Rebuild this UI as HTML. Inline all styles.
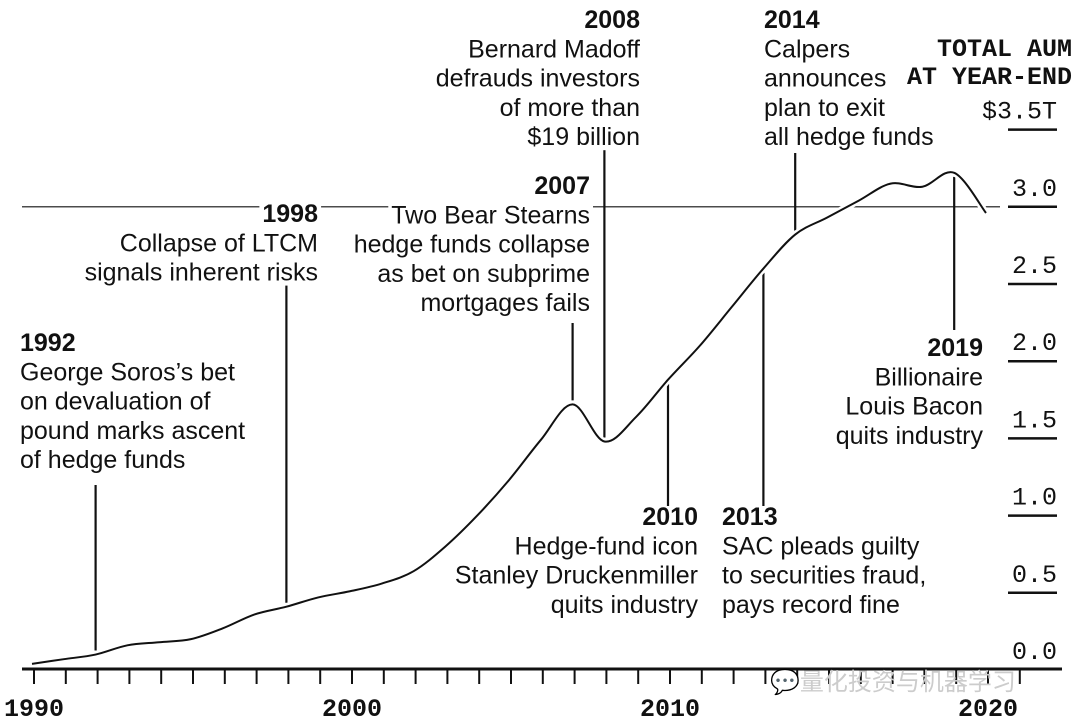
<!DOCTYPE html>
<html><head><meta charset="utf-8"><style>
html,body{margin:0;padding:0;background:#fff;}
svg{display:block;}
.ev{font-family:"Liberation Sans",sans-serif;font-size:25px;fill:#111;}
.yr{font-weight:bold;}
.ax{font-family:"Liberation Mono",monospace;font-size:25px;fill:#111;}
</style></head><body>
<svg id="chart" width="1080" height="726" viewBox="0 0 1080 726" xmlns="http://www.w3.org/2000/svg">
<g id="grid"></g>
<g id="vlines"></g>
<g id="curve"></g>
<g id="xaxis"></g>
<g id="yaxis"></g>
<g id="events"></g>
<text x="770" y="690" style="font-family:'Liberation Sans','Noto Sans CJK SC',sans-serif;font-size:24px;fill:#ccc;">💬量化投资与机器学习</text>
</svg>
<script>
const years=[1990,1991,1992,1993,1994,1995,1996,1997,1998,1999,2000,2001,2002,2003,2004,2005,2006,2007,2008,2009,2010,2011,2012,2013,2014,2015,2016,2017,2018,2019,2020];
const aum=[0.04,0.07,0.1,0.16,0.18,0.2,0.27,0.36,0.41,0.47,0.51,0.56,0.64,0.8,1.0,1.23,1.49,1.72,1.48,1.64,1.88,2.1,2.35,2.6,2.82,2.93,3.04,3.15,3.13,3.22,2.96];
const yTicks=[0,0.5,1.0,1.5,2.0,2.5,3.0,3.5];
const yTickLabels=["0.0","0.5","1.0","1.5","2.0","2.5","3.0","$3.5T"];
const xLabels=[1990,2000,2010,2020];
const eventYears=[1992,1998,2007,2008,2010,2013,2014,2019];
const eventTops=[485,283,323,150,508,508,153,330];
const eventTitles=[
["1992","George Soros’s bet","on devaluation of","pound marks ascent","of hedge funds"],
["1998","Collapse of LTCM","signals inherent risks"],
["2007","Two Bear Stearns","hedge funds collapse","as bet on subprime","mortgages fails"],
["2008","Bernard Madoff","defrauds investors","of more than","$19 billion"],
["2010","Hedge-fund icon","Stanley Druckenmiller","quits industry"],
["2013","SAC pleads guilty","to securities fraud,","pays record fine"],
["2014","Calpers","announces","plan to exit","all hedge funds"],
["2019","Billionaire","Louis Bacon","quits industry"]];
const evLayout=[[20,351,'start'],[318,222,'end'],[590,194,'end'],[640,28,'end'],[698,525,'end'],[722,525,'start'],[764,28,'start'],[983,356,'end']];
const NS="http://www.w3.org/2000/svg";
function X(y){return 32+31.8*(y-1990);}
function Y(v){return 670-154.4*v;}
function mk(tag,attrs,parent){const e=document.createElementNS(NS,tag);for(const k in attrs)e.setAttribute(k,attrs[k]);parent.appendChild(e);return e;}
const g=document.getElementById('grid'),vl=document.getElementById('vlines'),cv=document.getElementById('curve'),xa=document.getElementById('xaxis'),ya=document.getElementById('yaxis'),ev=document.getElementById('events');
let gl=mk('line',{x1:22,x2:1000,y1:Y(3),y2:Y(3),stroke:'#111','stroke-width':1.2},g);


const pts=years.map((y,i)=>[X(y),Y(aum[i])]);
let d='M'+pts[0][0]+','+pts[0][1];
for(let i=0;i<pts.length-1;i++){const p0=pts[Math.max(0,i-1)],p1=pts[i],p2=pts[i+1],p3=pts[Math.min(pts.length-1,i+2)];
d+=' C'+(p1[0]+(p2[0]-p0[0])/6)+','+(p1[1]+(p2[1]-p0[1])/6)+' '+(p2[0]-(p3[0]-p1[0])/6)+','+(p2[1]-(p3[1]-p1[1])/6)+' '+p2[0]+','+p2[1];}
mk('path',{d:d,fill:'none',stroke:'#fff','stroke-width':7},cv);
let cp=mk('path',{d:d,fill:'none',stroke:'#111','stroke-width':2},cv);


eventYears.forEach((yr,i)=>{
  const idx=years.indexOf(yr);const x=X(yr),yv=Y(aum[idx]);
  const l=mk('line',{x1:x,x2:x,y1:eventTops[i],y2:yv-(eventTops[i]<yv?4:-4),stroke:'#111','stroke-width':2.2},vl);
  
  
  const [lx,ly,anc]=evLayout[i];
  const grp=mk('g',{},ev);
  
  
  eventTitles[i].forEach((s,j)=>{
    const t=mk('text',{x:lx,y:ly+j*29.3,'text-anchor':anc,class:'ev'+(j===0?' yr':'')},grp);
    t.textContent=s;
    const bb=t.getBBox();
    const bg=mk('rect',{x:bb.x-3,y:bb.y+3,width:bb.width+6,height:bb.height-4,fill:'#fff'},grp);
    grp.insertBefore(bg,t);
  });
});
let base=mk('line',{x1:22,x2:1062,y1:669,y2:669,stroke:'#111','stroke-width':3},xa);


for(let y=1990;y<=2021;y++){mk('line',{x1:X(y)+2,x2:X(y)+2,y1:669,y2:684,stroke:'#111','stroke-width':2},xa);}
xLabels.forEach(y=>{const t=mk('text',{x:X(y)+2,y:716,'text-anchor':'middle',class:'ax','font-weight':'bold'},xa);t.textContent=y;

});
yTicks.forEach((v,i)=>{const yy=Y(v);
  if(v>0){mk('line',{x1:1008,x2:1057,y1:yy,y2:yy,stroke:'#111','stroke-width':2.5},ya);}
  const t=mk('text',{x:1057,y:yy-11,'text-anchor':'end',class:'ax'},ya);t.textContent=yTickLabels[i];
  
  });
const tt=mk('text',{x:1072,y:56,'text-anchor':'end',class:'ax','font-weight':'bold','font-size':'24'},ya);


mk('tspan',{x:1072,y:56},tt).textContent='TOTAL AUM';
mk('tspan',{x:1072,y:84},tt).textContent='AT YEAR-END';
</script>
</body></html>
